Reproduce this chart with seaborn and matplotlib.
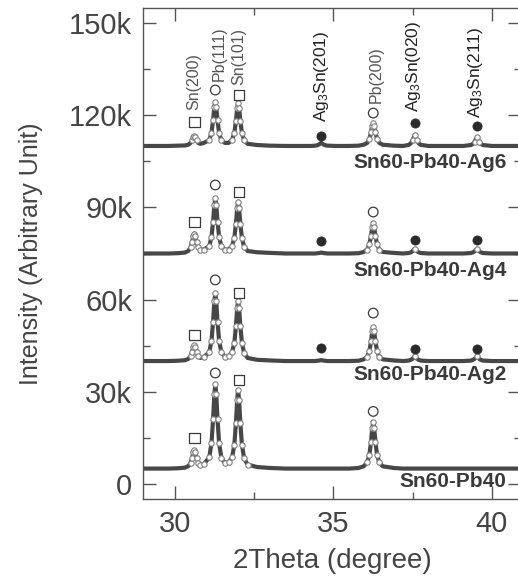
import matplotlib
matplotlib.use("Agg")
import matplotlib.pyplot as plt
from matplotlib.ticker import MultipleLocator, FuncFormatter
import pandas as pd
import seaborn as sns

sns.set_theme(style="ticks")
plt.rcParams['font.family'] = ['Liberation Sans', 'DejaVu Sans']
plt.rcParams['mathtext.default'] = 'regular'

# 2theta positions (degree), shared by the four patterns
two_theta = [29.0, 29.4, 29.8, 30.1,
             30.32, 30.43, 30.50, 30.55, 30.59, 30.62, 30.65, 30.69, 30.74, 30.81, 30.92,
             31.09, 31.16, 31.21, 31.25, 31.28, 31.31, 31.35, 31.40, 31.47, 31.58,
             31.70, 31.81, 31.88, 31.93, 31.97, 32.00, 32.03, 32.07, 32.12, 32.19, 32.30,
             32.6, 33.0, 33.5, 34.0, 34.3,
             34.43, 34.50, 34.55, 34.62, 34.69, 34.74, 34.81,
             35.1, 35.5, 35.8,
             35.96, 36.07, 36.14, 36.19, 36.23, 36.26, 36.29, 36.33, 36.38, 36.45, 36.56,
             36.9, 37.2,
             37.38, 37.45, 37.50, 37.57, 37.64, 37.69, 37.76,
             38.0, 38.4, 38.8, 39.1,
             39.34, 39.41, 39.46, 39.53, 39.60, 39.65, 39.72,
             40.0, 40.4, 40.9]

# intensities in thousands (offset patterns as plotted)
sn60_pb40 = [5.0, 5.0, 5.0, 5.1,
             5.3, 5.8, 6.8, 8.5, 10.3, 11.0, 10.3, 8.5, 6.9, 6.2, 6.5,
             8.7, 13.3, 21.0, 29.2, 32.5, 29.2, 21.0, 13.3, 8.6, 6.8,
             7.1, 8.7, 12.7, 19.8, 27.4, 30.5, 27.4, 19.8, 12.7, 8.3, 6.3,
             5.5, 5.2, 5.0, 5.0, 5.0,
             5.0, 5.0, 5.0, 5.0, 5.0, 5.0, 5.0,
             5.0, 5.0, 5.2,
             5.75, 7.0, 9.5, 13.7, 18.2, 20.0, 18.2, 13.7, 9.5, 7.0, 5.75,
             5.2, 5.0,
             5.0, 5.0, 5.0, 5.0, 5.0, 5.0, 5.0,
             5.0, 5.0, 5.0, 5.0,
             5.0, 5.0, 5.0, 5.0, 5.0, 5.0, 5.0,
             5.0, 5.0, 5.0]

sn60_pb40_ag2 = [40.0, 40.0, 40.0, 40.1,
                 40.26, 40.7, 41.6, 43.0, 44.6, 45.2, 44.6, 43.0, 41.6, 41.0, 41.3,
                 42.9, 46.6, 52.8, 59.4, 62.0, 59.4, 52.8, 46.6, 42.9, 41.4,
                 41.6, 42.9, 45.9, 51.3, 57.2, 59.5, 57.2, 51.3, 45.9, 42.5, 41.0,
                 40.4, 40.2, 40.0, 40.0, 40.0,
                 40.0, 40.1, 40.15, 40.3, 40.15, 40.1, 40.0,
                 40.0, 40.0, 40.1,
                 40.55, 41.4, 43.3, 46.4, 49.7, 51.0, 49.7, 46.4, 43.3, 41.4, 40.55,
                 40.2, 40.0,
                 40.15, 40.4, 40.75, 41.5, 40.75, 40.4, 40.15,
                 40.0, 40.0, 40.0, 40.0,
                 40.15, 40.4, 40.75, 41.5, 40.75, 40.4, 40.15,
                 40.0, 40.0, 40.0]

sn60_pb40_ag4 = [75.0, 75.0, 75.0, 75.1,
                 75.3, 75.85, 77.0, 78.8, 80.7, 81.5, 80.7, 78.8, 77.0, 76.2, 76.3,
                 77.4, 80.4, 85.4, 90.8, 93.0, 90.8, 85.4, 80.4, 77.4, 76.2,
                 76.3, 77.5, 80.0, 84.7, 89.8, 91.8, 89.8, 84.7, 80.0, 77.2, 75.8,
                 75.4, 75.2, 75.0, 75.0, 75.0,
                 75.0, 75.1, 75.15, 75.3, 75.15, 75.1, 75.0,
                 75.0, 75.0, 75.1,
                 75.5, 76.3, 78.0, 80.7, 83.7, 84.9, 83.7, 80.7, 78.0, 76.3, 75.5,
                 75.2, 75.0,
                 75.15, 75.4, 75.75, 76.5, 75.75, 75.4, 75.15,
                 75.0, 75.0, 75.0, 75.0,
                 75.15, 75.4, 75.75, 76.5, 75.75, 75.4, 75.15,
                 75.0, 75.0, 75.0]

sn60_pb40_ag6 = [110.0, 110.0, 110.0, 110.1,
                 110.16, 110.4, 111.0, 111.9, 112.8, 113.2, 112.8, 111.9, 111.0, 110.7, 111.0,
                 111.9, 114.3, 118.3, 122.6, 124.3, 122.6, 118.3, 114.3, 111.9, 111.0,
                 111.0, 112.1, 114.2, 118.1, 122.3, 124.0, 122.3, 118.1, 114.2, 111.8, 110.7,
                 110.3, 110.1, 110.0, 110.0, 110.0,
                 110.1, 110.25, 110.5, 111.0, 110.5, 110.25, 110.1,
                 110.0, 110.0, 110.1,
                 110.4, 111.0, 112.3, 114.4, 116.6, 117.5, 116.6, 114.4, 112.3, 111.0, 110.4,
                 110.1, 110.0,
                 110.35, 110.9, 111.8, 113.6, 111.8, 110.9, 110.35,
                 110.0, 110.0, 110.0, 110.0,
                 110.3, 110.7, 111.45, 112.9, 111.45, 110.7, 110.3,
                 110.0, 110.0, 110.0]

samples = ["Sn60-Pb40", "Sn60-Pb40-Ag2", "Sn60-Pb40-Ag4", "Sn60-Pb40-Ag6"]
patterns = [sn60_pb40, sn60_pb40_ag2, sn60_pb40_ag4, sn60_pb40_ag6]
baselines = [5, 40, 75, 110]
label_y = [0.7, 35.6, 69.6, 104.5]

# phase symbols: open square = Sn, open circle = Pb, filled circle = Ag3Sn
sn_x = [30.62, 32.02]
sn_y = [[15.0, 33.8], [48.5, 62.2], [85.3, 95.0], [117.8, 126.6]]
pb_x = [31.28, 36.26]
pb_y = [[36.1, 23.6], [66.4, 55.6], [97.3, 88.5], [128.2, 120.7]]
ag_x = [34.62, 37.57, 39.53]
ag_y = [None, [44.3, 43.8, 44.0], [79.0, 79.5, 79.5], [113.2, 117.5, 116.5]]

# peak names above the top pattern
peak_names = ["Sn(200)", "Pb(111)", "Sn(101)", "Ag$_3$Sn(201)", "Pb(200)",
              "Ag$_3$Sn(020)", "Ag$_3$Sn(211)"]
peak_x = [30.60, 31.42, 32.02, 34.62, 36.34, 37.54, 39.50]
peak_y = [121.7, 131.0, 129.8, 117.8, 124.0, 121.0, 119.1]

fig = plt.figure(figsize=(5.18, 5.8), dpi=100)
ax = fig.add_axes([143 / 518, 81 / 580, 378 / 518, 491 / 580])

for name, vals, base, ly in zip(samples, patterns, baselines, label_y):
    df = pd.DataFrame({"two_theta": two_theta, "intensity": vals})
    sns.lineplot(data=df, x="two_theta", y="intensity", ax=ax, color="#474747",
                 lw=3.0, sort=False, estimator=None, legend=False, zorder=2)
    pk = df[df["intensity"] - base > 1.0]
    sns.scatterplot(data=pk, x="two_theta", y="intensity", ax=ax, marker="o", s=15,
                    facecolor="white", edgecolor="#808080", linewidth=0.8,
                    zorder=3, legend=False)
    ax.text(40.47, ly, name, ha="right", va="center", fontsize=15,
            fontweight="bold", color="#3a3a3a", zorder=4)

for i in range(4):
    sns.scatterplot(x=sn_x, y=sn_y[i], ax=ax, marker="s", s=56, facecolor="none",
                    edgecolor="#3a3a3a", linewidth=0.9, zorder=4, legend=False)
    sns.scatterplot(x=pb_x, y=pb_y[i], ax=ax, marker="o", s=48, facecolor="none",
                    edgecolor="#3a3a3a", linewidth=0.9, zorder=4, legend=False)
    if ag_y[i] is not None:
        sns.scatterplot(x=ag_x, y=ag_y[i], ax=ax, marker="o", s=44, color="#2a2a2a",
                        edgecolor="#2a2a2a", linewidth=0.5, zorder=4, legend=False)

for name, px, py in zip(peak_names, peak_x, peak_y):
    is_ag = name.startswith("Ag")
    ax.text(px, py, name, rotation=90, ha="center", va="bottom",
            fontsize=12.5 if is_ag else 11.5,
            color="#222222" if is_ag else "#555555", zorder=4)

ax.set_xlim(29.0, 40.92)
ax.set_ylim(-4.9, 154.9)
ax.xaxis.set_major_locator(MultipleLocator(5))
ax.xaxis.set_minor_locator(MultipleLocator(2.5))
ax.yaxis.set_major_locator(MultipleLocator(30))
ax.yaxis.set_minor_locator(MultipleLocator(15))
ax.yaxis.set_major_formatter(FuncFormatter(lambda v, p: "0" if v == 0 else f"{int(v)}k"))

ax.tick_params(which="both", direction="in", top=True, right=True,
               color="#555555", width=1.0)
ax.tick_params(which="major", length=9.5, labelsize=21, labelcolor="#444444", pad=8)
ax.tick_params(which="minor", length=5)
for sp in ax.spines.values():
    sp.set_color("#555555")
    sp.set_linewidth(1.0)

ax.set_xlabel("2Theta (degree)", fontsize=20, color="#444444")
ax.set_ylabel("Intensity (Arbitrary Unit)", fontsize=18, color="#444444")
ax.xaxis.set_label_coords(0.5, -0.10)
ax.yaxis.set_label_coords(-0.265, 0.5)

plt.savefig("out.png", dpi=100)
plt.close()
